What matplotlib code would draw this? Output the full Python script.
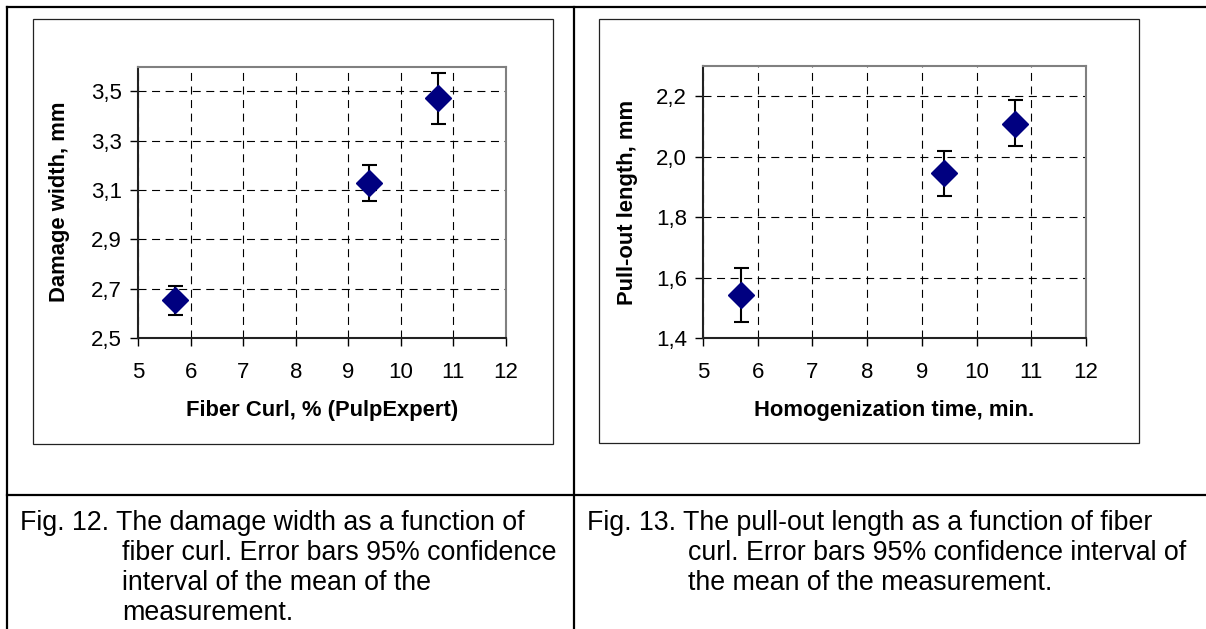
import matplotlib
matplotlib.use('Agg')
import matplotlib.pyplot as plt
from matplotlib.lines import Line2D
from matplotlib.patches import Rectangle

plt.rcParams['font.family'] = ['Liberation Sans', 'DejaVu Sans']

W, H = 1206, 629

# --- data ---
curl_x = [5.7, 9.4, 10.7]
damage_width = [2.654, 3.128, 3.471]
damage_lo = [2.593, 3.055, 3.367]
damage_hi = [2.712, 3.201, 3.575]

homog_x = [5.7, 9.4, 10.7]
pullout_len = [1.543, 1.946, 2.108]
pullout_lo = [1.452, 1.871, 2.034]
pullout_hi = [1.633, 2.020, 2.186]

x_ticks = [5, 6, 7, 8, 9, 10, 11, 12]
damage_ticks = [2.5, 2.7, 2.9, 3.1, 3.3, 3.5]
damage_ticklabels = ['2,5', '2,7', '2,9', '3,1', '3,3', '3,5']
pullout_ticks = [1.4, 1.6, 1.8, 2.0, 2.2]
pullout_ticklabels = ['1,4', '1,6', '1,8', '2,0', '2,2']

caption_12 = ["Fig. 12. The damage width as a function of",
              "fiber curl. Error bars 95% confidence",
              "interval of the mean of the",
              "measurement."]
caption_13 = ["Fig. 13. The pull-out length as a function of fiber",
              "curl. Error bars 95% confidence interval of",
              "the mean of the measurement."]


def px_axes(fig, x0, y0, x1, y1):
    return fig.add_axes([x0 / W, 1 - y1 / H, (x1 - x0) / W, (y1 - y0) / H])


def fig_line(fig, xs, ys, lw=1.5, color='black'):
    fig.add_artist(Line2D([x / W for x in xs], [1 - y / H for y in ys],
                          transform=fig.transFigure, lw=lw, color=color))


def fig_box(fig, x0, y0, x1, y1):
    fig.add_artist(Rectangle((x0 / W, 1 - y1 / H), (x1 - x0) / W, (y1 - y0) / H,
                             transform=fig.transFigure, fill=False,
                             lw=0.9, edgecolor='#222222'))


def draw_panel(ax, x, y, lo, hi, yticks, ylabels, ylim, xlabel, ylabel, ylab_x):
    yerr = [[v - l for v, l in zip(y, lo)], [h - v for v, h in zip(y, hi)]]
    ax.errorbar(x, y, yerr=yerr, fmt='none', ecolor='black', elinewidth=1.5,
                capsize=5.4, capthick=1.5, zorder=3)
    ax.plot(x, y, linestyle='none', marker='D', markersize=13.7,
            color='#000080', zorder=4)

    ax.set_xlim(5, 12)
    ax.set_ylim(*ylim)
    ax.set_xticks(x_ticks)
    ax.set_yticks(yticks)
    ax.set_yticklabels(ylabels)
    ax.grid(True, color='black', linestyle=(0, (7.2, 5)), linewidth=0.8)

    ax.tick_params(axis='both', direction='out', length=6, width=1,
                   labelsize=16, color='black')
    ax.tick_params(axis='x', pad=11)
    ax.tick_params(axis='y', pad=5.5)

    for s in ('top', 'right'):
        ax.spines[s].set_color('#808080')
        ax.spines[s].set_linewidth(1.5)
    for s in ('left', 'bottom'):
        ax.spines[s].set_color('#222222')
        ax.spines[s].set_linewidth(1.5)

    ax.set_xlabel(xlabel, fontsize=15.8, fontweight='bold', va='center')
    ax.set_ylabel(ylabel, fontsize=15.8, fontweight='bold', va='center')
    ax.xaxis.set_label_coords(0.5, -0.268)
    ax.yaxis.set_label_coords(ylab_x, 0.5)


fig = plt.figure(figsize=(W / 100, H / 100), dpi=100)

# table grid lines
fig_line(fig, [7, W], [7, 7], lw=1.6)
fig_line(fig, [7, 7], [7, H], lw=1.6)
fig_line(fig, [574, 574], [7, H], lw=1.6)
fig_line(fig, [7, W], [495, 495], lw=1.6)

# chart frames
fig_box(fig, 33, 19, 553, 444)
fig_box(fig, 599, 19, 1139, 443)

ax1 = px_axes(fig, 138, 66.5, 506, 338)
draw_panel(ax1, curl_x, damage_width, damage_lo, damage_hi,
           damage_ticks, damage_ticklabels, (2.5, 3.6),
           'Fiber Curl, % (PulpExpert)', 'Damage width, mm', -0.212)

ax2 = px_axes(fig, 703, 66, 1086, 338)
draw_panel(ax2, homog_x, pullout_len, pullout_lo, pullout_hi,
           pullout_ticks, pullout_ticklabels, (1.4, 2.3),
           'Homogenization time, min.', 'Pull-out length, mm', -0.196)

# captions
baselines = [530, 560, 590, 620]
for i, line in enumerate(caption_12):
    fig.text((20 if i == 0 else 122) / W, 1 - baselines[i] / H, line,
             fontsize=19.3, va='baseline', ha='left')
for i, line in enumerate(caption_13):
    fig.text((587 if i == 0 else 688) / W, 1 - baselines[i] / H, line,
             fontsize=19.3, va='baseline', ha='left')

fig.savefig('out.png', dpi=100)
